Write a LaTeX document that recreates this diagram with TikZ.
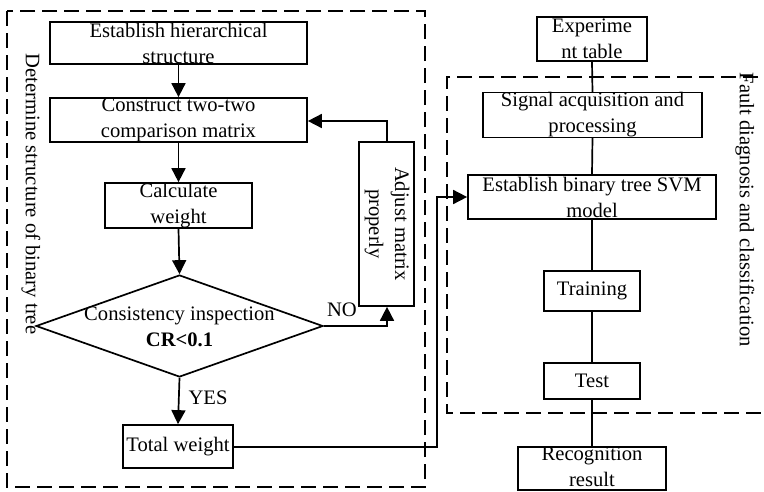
\documentclass[tikz,border=0pt]{standalone}
\usepackage{fontspec}
\setmainfont{Liberation Serif}
\usetikzlibrary{shapes.geometric,arrows.meta}
\begin{document}
\begin{tikzpicture}[x=1pt,y=-1pt,
  box/.style={draw,line width=1.7pt,inner sep=0pt,align=center,font=\fontsize{20.6}{26}\selectfont},
  lbl/.style={inner sep=0pt,font=\fontsize{20.6}{26}\selectfont},
  frame/.style={draw,line width=1.5pt,dash pattern=on 15pt off 7pt},
  link/.style={line width=1.7pt},
  arr/.style={line width=1.7pt,-{Triangle[length=14pt,width=14pt]}}]
\useasboundingbox (0,0) rectangle (764,491);
% dashed frames
\draw[frame] (7,11) rectangle (425,487);
\draw[frame] (780,77) -- (447,77) -- (447,413) -- (780,413);
% left column
\node[box,minimum width=257pt,minimum height=42pt] (est) at (178.5,43) {Establish hierarchical\\structure};
\node[box,minimum width=257pt,minimum height=44pt] (con) at (178.5,120) {Construct two-two\\comparison matrix};
\node[box,minimum width=147pt,minimum height=45pt] (cal) at (178.5,205.5) {Calculate\\weight};
\node[box,minimum width=55pt,minimum height=164pt] (adj) at (386.5,224) {};
\node[lbl,rotate=-90,align=center] (adjt) at (387,224) {Adjust matrix\\properly};
\node[draw,diamond,line width=1.7pt,inner sep=0pt,minimum width=287pt,minimum height=102pt] (dia) at (179.5,326) {};
\node[lbl,align=center] (diat) at (179.5,327) {Consistency inspection\\\textbf{CR<0.1}};
\node[box,minimum width=110pt,minimum height=43pt] (tot) at (178,446.5) {Total weight};
\node[lbl,rotate=-90] (ltitle) at (31,194) {Determine structure of binary tree};
% right column
\node[box,minimum width=110pt,minimum height=44pt] (exp) at (592,39) {Experime\\nt table};
\node[box,minimum width=219pt,minimum height=44pt] (sig) at (592.5,115) {Signal acquisition and\\processing};
\node[box,minimum width=248pt,minimum height=44pt] (svm) at (592,197) {Establish binary tree SVM\\model};
\node[box,minimum width=96pt,minimum height=40pt] (tra) at (592,291) {Training};
\node[box,minimum width=96pt,minimum height=36pt] (tes) at (592,381) {Test};
\node[box,minimum width=148pt,minimum height=43pt] (rec) at (592,468.5) {};
\node[lbl,align=center] (rect) at (592,467) {Recognition\\result};
\node[lbl,rotate=-90] (rtitle) at (745,210) {Fault diagnosis and classification};
% labels
\node[lbl] (no) at (342,310) {NO};
\node[lbl] (yes) at (208,398) {YES};
% coordinates
\coordinate (c1) at (387,326);
\coordinate (c2) at (387,121);
\coordinate (c3) at (437,447);
\coordinate (c4) at (437,197);
% left connectors
\draw[arr] (est.south) -- (con.north);
\draw[arr] (con.south) -- (cal.north);
\draw[arr] (cal.south) -- (dia.north);
\draw[arr] (dia.south) -- (tot.north);
\draw[arr] (dia.east) -- (c1) -- (adj.south -| c1);
\draw[arr] (adj.north -| c2) -- (c2) -- (con.east |- c2);
\draw[arr] (tot.east |- c3) -- (c3) -- (c4) -- (svm.west |- c4);
% right connectors
\draw[link] (exp.south) -- (sig.north);
\draw[link] (sig.south) -- (svm.north);
\draw[link] (svm.south) -- (tra.north);
\draw[link] (tra.south) -- (tes.north);
\draw[link] (tes.south) -- (rec.north);
\end{tikzpicture}
\end{document}
